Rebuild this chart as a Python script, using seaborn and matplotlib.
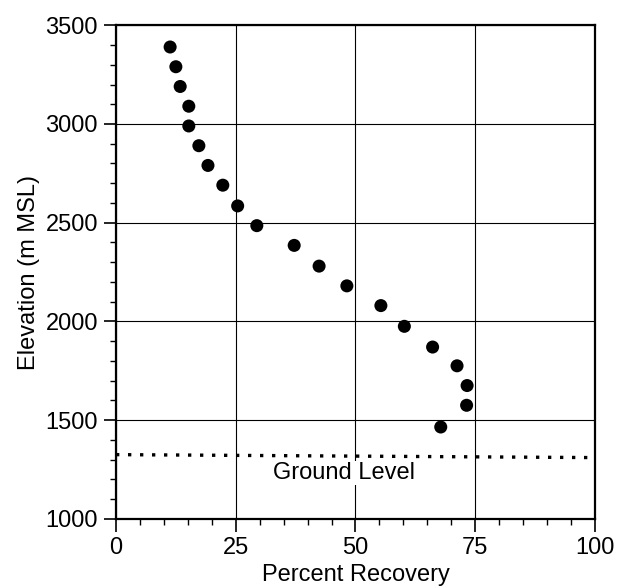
import pandas as pd
import matplotlib
matplotlib.use("Agg")
import matplotlib.pyplot as plt
import seaborn as sns
from matplotlib.ticker import MultipleLocator

# Values
recovery = [11.3, 12.5, 13.4, 15.2, 15.2, 17.3, 19.2, 22.3, 25.4, 29.4,
            37.2, 42.4, 48.2, 55.3, 60.2, 66.1, 71.2, 73.3, 73.2, 67.8]
elevation = [3390, 3290, 3190, 3090, 2990, 2890, 2790, 2690, 2585, 2485,
             2385, 2280, 2180, 2080, 1975, 1870, 1775, 1675, 1575, 1465]

# Ground level reference line
ground_x = [0, 100]
ground_y = [1325, 1310]
ground_label = "Ground Level"

x_ticks = [0, 25, 50, 75, 100]
y_ticks = [1000, 1500, 2000, 2500, 3000, 3500]

df = pd.DataFrame({"Percent Recovery": recovery, "Elevation": elevation})

sns.set_style("ticks")
plt.rcParams["font.family"] = ["Liberation Sans", "DejaVu Sans"]
plt.rcParams["text.color"] = "black"
plt.rcParams["axes.labelcolor"] = "black"

fig, ax = plt.subplots(figsize=(6.19, 5.88), dpi=100)
fig.subplots_adjust(left=0.1874, right=0.9612, top=0.957, bottom=0.1177)

# Scatter of recovery vs elevation
sns.scatterplot(data=df, x="Percent Recovery", y="Elevation", color="black",
                s=88, edgecolor="none", ax=ax, zorder=3, legend=False)

# Dotted ground level line and label
ax.plot(ground_x, ground_y, color="black", lw=2.4, linestyle=(0, (1, 2.6)), zorder=2)
ax.text(47.6, 1232, ground_label, ha="center", va="center", fontsize=17,
        color="black", bbox=dict(fc="white", ec="none", pad=1), zorder=1.5)

ax.set_xlim(0, 100)
ax.set_ylim(1000, 3500)
ax.set_xticks(x_ticks)
ax.set_yticks(y_ticks)
ax.xaxis.set_minor_locator(MultipleLocator(5))
ax.yaxis.set_minor_locator(MultipleLocator(100))

ax.grid(True, which="major", color="black", lw=0.8)
ax.set_axisbelow(True)

ax.tick_params(which="major", direction="out", length=9, width=1.2,
               labelsize=17, pad=4, colors="black")
ax.tick_params(which="minor", direction="out", length=4, width=1.0, colors="black")
for sp in ax.spines.values():
    sp.set_visible(True)
    sp.set_color("black")
    sp.set_linewidth(1.6)

ax.set_xlabel("Percent Recovery", fontsize=17, color="black")
ax.set_ylabel("Elevation (m MSL)", fontsize=17, color="black")

fig.savefig("out.png", dpi=100)
